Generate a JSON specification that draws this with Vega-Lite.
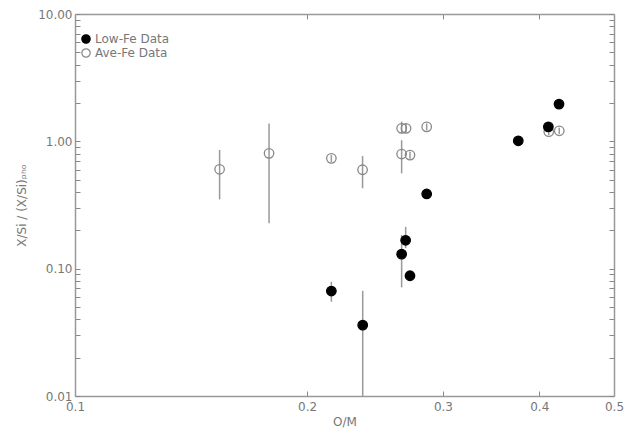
{
  "$schema": "https://vega.github.io/schema/vega-lite/v6.json",
  "width": 539,
  "height": 382,
  "autosize": {"type": "none"},
  "padding": {"left": 75, "top": 14, "right": 10, "bottom": 36},
  "background": "white",
  "config": {
    "view": {"stroke": null},
    "font": "DejaVu Sans",
    "axis": {
      "grid": false,
      "domainColor": "#999999",
      "domainWidth": 1.5,
      "tickColor": "#888888",
      "tickWidth": 1,
      "labelColor": "#777777",
      "titleColor": "#777777",
      "labelFont": "DejaVu Sans",
      "titleFont": "DejaVu Sans",
      "labelFontSize": 12,
      "titleFontSize": 12,
      "titleFontWeight": "normal",
      "labelFlush": false
    },
    "legend": {
      "labelColor": "#777777",
      "labelFont": "DejaVu Sans",
      "labelFontSize": 12
    }
  },
  "data": {
    "values": [
      {"x": 0.154, "y": 0.603, "lo": 0.35, "hi": 0.855, "type": "Ave-Fe Data"},
      {"x": 0.1785, "y": 0.805, "lo": 0.227, "hi": 1.38, "type": "Ave-Fe Data"},
      {"x": 0.215, "y": 0.735, "lo": 0.69, "hi": 0.78, "type": "Ave-Fe Data"},
      {"x": 0.236, "y": 0.598, "lo": 0.428, "hi": 0.766, "type": "Ave-Fe Data"},
      {"x": 0.2652, "y": 1.265, "lo": 1.156, "hi": 1.43, "type": "Ave-Fe Data"},
      {"x": 0.2687, "y": 1.265, "lo": 1.17, "hi": 1.37, "type": "Ave-Fe Data"},
      {"x": 0.2858, "y": 1.30, "lo": 1.22, "hi": 1.38, "type": "Ave-Fe Data"},
      {"x": 0.2652, "y": 0.795, "lo": 0.561, "hi": 1.02, "type": "Ave-Fe Data"},
      {"x": 0.2719, "y": 0.78, "lo": 0.73, "hi": 0.83, "type": "Ave-Fe Data"},
      {"x": 0.4115, "y": 1.19, "lo": 1.12, "hi": 1.26, "type": "Ave-Fe Data"},
      {"x": 0.4246, "y": 1.21, "lo": 1.14, "hi": 1.28, "type": "Ave-Fe Data"},
      {"x": 0.2858, "y": 0.386, "type": "Low-Fe Data"},
      {"x": 0.2684, "y": 0.167, "lo": 0.145, "hi": 0.213, "type": "Low-Fe Data"},
      {"x": 0.2652, "y": 0.130, "lo": 0.0713, "hi": 0.184, "type": "Low-Fe Data"},
      {"x": 0.2719, "y": 0.088, "type": "Low-Fe Data"},
      {"x": 0.215, "y": 0.0667, "lo": 0.055, "hi": 0.0789, "type": "Low-Fe Data"},
      {"x": 0.2361, "y": 0.036, "lo": 0.01, "hi": 0.067, "type": "Low-Fe Data"},
      {"x": 0.3757, "y": 1.01, "type": "Low-Fe Data"},
      {"x": 0.411, "y": 1.30, "type": "Low-Fe Data"},
      {"x": 0.4243, "y": 1.96, "type": "Low-Fe Data"}
    ]
  },
  "layer": [
    {
      "transform": [{"filter": "datum.lo != null"}],
      "mark": {"type": "rule", "color": "#999999", "strokeWidth": 1.5},
      "encoding": {
        "x": {
          "field": "x", "type": "quantitative",
          "scale": {"type": "log", "domain": [0.1, 0.5], "nice": false},
          "axis": {
            "orient": "bottom",
            "title": "O/M",
            "values": [0.1, 0.2, 0.3, 0.4, 0.5],
            "format": ".1f",
            "tickSize": -5,
            "labelPadding": 10,
            "titlePadding": 4
          }
        },
        "y": {
          "field": "lo", "type": "quantitative",
          "scale": {"type": "log", "domain": [0.01, 10], "nice": false},
          "axis": {
            "orient": "left",
            "title": "X/Si / (X/Si)ₚₕₒ",
            "values": [0.01, 0.02, 0.03, 0.04, 0.05, 0.06, 0.07, 0.08, 0.09, 0.1, 0.2, 0.3, 0.4, 0.5, 0.6, 0.7, 0.8, 0.9, 1, 2, 3, 4, 5, 6, 7, 8, 9, 10],
            "labelExpr": "indexof([0.01, 0.1, 1, 10], datum.value) >= 0 ? format(datum.value, '.2f') : ''",
            "tickSize": -5,
            "labelPadding": 8,
            "titlePadding": 9
          }
        },
        "y2": {"field": "hi"}
      }
    },
    {
      "mark": {"type": "point", "shape": "circle", "size": 90, "strokeWidth": 1.3, "opacity": 1},
      "encoding": {
        "x": {
          "field": "x", "type": "quantitative",
          "scale": {"type": "log", "domain": [0.1, 0.5], "nice": false},
          "axis": {
            "orient": "top",
            "title": null,
            "values": [0.1, 0.2, 0.3, 0.4, 0.5],
            "labels": false,
            "tickSize": -5
          }
        },
        "y": {
          "field": "y", "type": "quantitative",
          "scale": {"type": "log", "domain": [0.01, 10], "nice": false},
          "axis": {
            "orient": "right",
            "title": null,
            "values": [0.01, 0.02, 0.03, 0.04, 0.05, 0.06, 0.07, 0.08, 0.09, 0.1, 0.2, 0.3, 0.4, 0.5, 0.6, 0.7, 0.8, 0.9, 1, 2, 3, 4, 5, 6, 7, 8, 9, 10],
            "labels": false,
            "tickSize": -5
          }
        },
        "fill": {
          "field": "type", "type": "nominal",
          "scale": {"domain": ["Low-Fe Data", "Ave-Fe Data"], "range": ["black", "transparent"]},
          "legend": {"title": null, "orient": "none", "legendX": 5, "legendY": 19, "symbolSize": 70, "rowPadding": 0, "symbolStrokeWidth": 1.2, "labelOffset": 3}
        },
        "stroke": {
          "field": "type", "type": "nominal",
          "scale": {"domain": ["Low-Fe Data", "Ave-Fe Data"], "range": ["black", "#888888"]},
          "legend": {"title": null, "orient": "none", "legendX": 5, "legendY": 19, "symbolSize": 70, "rowPadding": 0, "symbolStrokeWidth": 1.2, "labelOffset": 3}
        }
      }
    }
  ],
  "resolve": {"axis": {"x": "independent", "y": "independent"}}
}
